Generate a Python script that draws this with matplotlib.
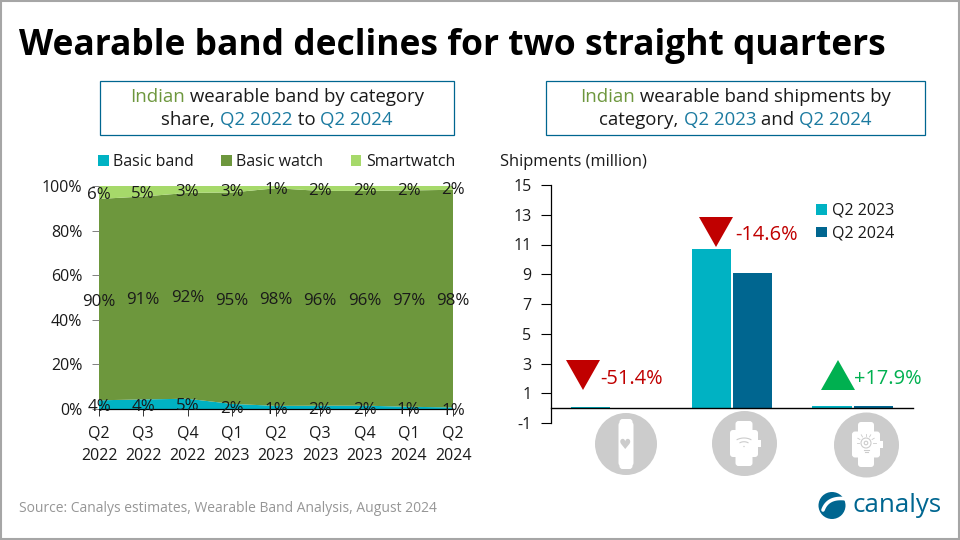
import numpy as np
import matplotlib
matplotlib.use("Agg")
from matplotlib import pyplot as plt
from matplotlib.patches import Circle, FancyBboxPatch, Polygon, Rectangle

W, H = 960, 540

quarters = ["Q2\n2022", "Q3\n2022", "Q4\n2022", "Q1\n2023", "Q2\n2023",
            "Q3\n2023", "Q4\n2023", "Q1\n2024", "Q2\n2024"]
basic_band = [3.9, 4.3, 4.6, 2.3, 1.4, 1.5, 1.5, 1.0, 0.7]
basic_watch = [90.3, 91.0, 92.3, 94.8, 97.6, 96.3, 96.3, 97.0, 97.6]
smartwatch = [5.8, 4.7, 3.1, 2.9, 1.0, 2.2, 2.2, 2.0, 1.7]

categories = ["Basic band", "Basic watch", "Smartwatch"]
ship_2023 = [0.08, 10.7, 0.11]
ship_2024 = [0.04, 9.1, 0.13]
changes = ["-51.4%", "-14.6%", "+17.9%"]

TEAL = "#00B2C3"
NAVY = "#006690"
GREEN = "#6D973D"
LIGHT = "#A6D96A"
OLIVE = "#6D973D"
BLUE = "#1B7AA0"
RED = "#C00000"
UP = "#00B050"
TXT = "#1A1A1A"
ICON = "#CCCCCC"

plt.rcParams["font.family"] = ["Open Sans", "DejaVu Sans"]
plt.rcParams["axes.unicode_minus"] = False


def px_axes(left, top, right, bottom):
    return fig.add_axes([left / W, 1 - bottom / H, (right - left) / W, (bottom - top) / H])


fig = plt.figure(figsize=(9.6, 5.4), dpi=100)
over = fig.add_axes([0, 0, 1, 1], zorder=5)
over.set_xlim(0, W)
over.set_ylim(H, 0)
over.axis("off")

over.add_patch(Rectangle((0.5, 0.5), 958.5, 538.5, fill=False, ec="#A6A6A6", lw=1.5))
over.text(19, 46, "Wearable band declines for two straight quarters", fontsize=25.5,
          fontweight="bold", color="black", va="center", ha="left")


def title_box(left, right, line1, line2):
    over.add_patch(Rectangle((left, 81), right - left, 54, fc="white", ec=NAVY, lw=0.9))
    mid = (left + right) / 2
    for y, parts in ((97.5, line1), (120, line2)):
        texts = []
        for s, c in parts:
            t = over.text(0, y, s, fontsize=13.4, color=c, va="center", ha="left")
            texts.append(t)
        fig.canvas.draw()
        r = fig.canvas.get_renderer()
        widths = [t.get_window_extent(r).width for t in texts]
        x = mid - sum(widths) / 2
        for t, w in zip(texts, widths):
            t.set_x(x)
            x += w


title_box(100, 454,
          [("Indian", OLIVE), (" wearable band by category", TXT)],
          [("share, ", TXT), ("Q2 2022", BLUE), (" to ", TXT), ("Q2 2024", BLUE)])
title_box(546, 925,
          [("Indian", OLIVE), (" wearable band shipments by", TXT)],
          [("category, ", TXT), ("Q2 2023", BLUE), (" and ", TXT), ("Q2 2024", BLUE)])

# left chart
ax = px_axes(99, 186, 453, 409)
x = np.arange(len(quarters))
ax.stackplot(x, basic_band, basic_watch, smartwatch, colors=[TEAL, GREEN, LIGHT],
             labels=["Basic band", "Basic watch", "Smartwatch"], lw=0)
ax.set_xlim(0, len(quarters) - 1)
ax.set_ylim(0, 100)
ax.set_yticks(range(0, 101, 20))
ax.set_yticklabels([f"{v}%" for v in range(0, 101, 20)], fontsize=11.5, color=TXT)
ax.set_xticks(x)
ax.set_xticklabels(quarters, fontsize=11.5, color=TXT, linespacing=1.5)
ax.tick_params(axis="y", length=5, width=0.7, color="#808080", pad=7)
ax.tick_params(axis="x", length=5, width=0.7, color="#333333", pad=7)
for s in ["top", "right", "left"]:
    ax.spines[s].set_visible(False)
ax.spines["bottom"].set_linewidth(0.9)
ax.spines["bottom"].set_color("black")
ax.set_zorder(3)
for i in x:
    for val, ypos in ((basic_band[i], basic_band[i] / 2),
                      (basic_watch[i], basic_band[i] + basic_watch[i] / 2),
                      (smartwatch[i], 100 - smartwatch[i] / 2)):
        ax.annotate(f"{val:.0f}%", (i, ypos), xytext=(0, -1.8), textcoords="offset points",
                    fontsize=12.2, color=TXT, ha="center", va="center", annotation_clip=False)
ax.legend(loc="lower left", bbox_to_anchor=(-0.025, 1.035), ncol=3, frameon=False, fontsize=11.5,
          handlelength=0.65, handleheight=0.65, handletextpad=0.3, columnspacing=1.7,
          labelcolor=TXT, borderpad=0.3, borderaxespad=0.2)

# right chart
ax2 = px_axes(551, 185, 913, 423)
pos = np.arange(len(categories))
w = 0.325
ax2.bar(pos - w / 2 - 0.008, ship_2023, w, color=TEAL, label="Q2 2023")
ax2.bar(pos + w / 2 + 0.008, ship_2024, w, color=NAVY, label="Q2 2024")
ax2.set_xlim(-0.5, 2.5)
ax2.set_ylim(-1, 15)
ax2.set_yticks(range(-1, 16, 2))
ax2.tick_params(axis="y", labelsize=11.5, labelcolor=TXT, length=7, width=0.8, pad=7)
ax2.spines["top"].set_visible(False)
ax2.spines["right"].set_visible(False)
ax2.spines["bottom"].set_position(("data", 0))
ax2.spines["bottom"].set_linewidth(1.0)
ax2.spines["left"].set_linewidth(0.9)
ax2.set_xticks([])
ax2.legend(loc="upper left", bbox_to_anchor=(0.733, 0.925), frameon=False, fontsize=11.5,
           handlelength=0.65, handleheight=0.65, handletextpad=0.3, labelspacing=0.42,
           labelcolor=TXT, borderpad=0, borderaxespad=0)

over.text(500, 162, "Shipments (million)", fontsize=11.8, color=TXT, va="center", ha="left")
over.text(600, 379, changes[0], fontsize=14.4, color=RED, va="center", ha="left")
over.text(735, 235, changes[1], fontsize=14.4, color=RED, va="center", ha="left")
over.text(854, 379, changes[2], fontsize=14.4, color=UP, va="center", ha="left")
over.add_patch(Polygon([(566, 360), (600, 360), (583, 390)], fc=RED, ec="none"))
over.add_patch(Polygon([(699, 217), (733, 217), (716, 247)], fc=RED, ec="none"))
over.add_patch(Polygon([(821, 390), (855, 390), (838, 360)], fc=UP, ec="none"))


def strap_watch(cx, cy, body_w, body_h, strap_w, strap_h, crown=True):
    over.add_patch(FancyBboxPatch((cx - strap_w / 2, cy - strap_h / 2), strap_w, strap_h,
                                  boxstyle="round,pad=0,rounding_size=3", fc="white", ec="none"))
    over.add_patch(FancyBboxPatch((cx - body_w / 2, cy - body_h / 2), body_w, body_h,
                                  boxstyle="round,pad=0,rounding_size=3", fc="white", ec="none"))
    if crown:
        over.add_patch(Rectangle((cx + body_w / 2 - 1, cy - 3.5), 4, 7, fc="white", ec="none"))


# category icons under the axis
over.add_patch(Circle((626, 444), 31, fc=ICON, ec="none"))
strap_watch(626, 444, 15, 44, 13, 50, crown=False)
over.text(625.5, 445, "\u2665", fontsize=10, color=ICON, ha="center", va="center", family="DejaVu Sans")

over.add_patch(Circle((744.5, 443.5), 32.5, fc=ICON, ec="none"))
strap_watch(744, 443.5, 28, 27, 17, 45)
for r in (7, 12):
    theta = np.radians(np.linspace(235, 305, 20))
    over.plot(744 + r * np.cos(theta), 447 + r * np.sin(theta) * 0.75, color=ICON, lw=0.8)
over.add_patch(Circle((744, 446.5), 0.7, fc=ICON, ec="none"))

over.add_patch(Circle((866.5, 445), 32.5, fc=ICON, ec="none"))
strap_watch(866, 444.5, 28, 26, 16, 45)
over.add_patch(Circle((866, 443), 5, fc="white", ec=ICON, lw=0.8))
over.add_patch(Circle((866, 443), 1.8, fc="white", ec=ICON, lw=0.8))
for a in np.radians([-150, -120, -90, -60, -30, 0, 180]):
    over.plot([866 + 7 * np.cos(a), 866 + 9.5 * np.cos(a)],
              [443 + 7 * np.sin(a), 443 + 9.5 * np.sin(a)], color=ICON, lw=0.6)
over.plot([863.5, 868.5], [450, 450], color=ICON, lw=0.8)
over.plot([864.5, 867.5], [452, 452], color=ICON, lw=0.8)

over.text(19, 509, "Source: Canalys estimates, Wearable Band Analysis, August 2024",
          fontsize=10, color="#969696", va="center", ha="left")

# logo
over.add_patch(Circle((832, 505.5), 13.5, fc=NAVY, ec="none"))
t = np.linspace(0, 1, 30)
over.plot((1 - t) ** 2 * 823 + 2 * t * (1 - t) * 828 + t ** 2 * 847,
          (1 - t) ** 2 * 510 + 2 * t * (1 - t) * 496 + t ** 2 * 499,
          color="white", lw=2.6, solid_capstyle="round")
over.text(852, 505, "canalys", fontsize=18.6, color=NAVY, va="center", ha="left")

fig.savefig("out.png", dpi=100)
